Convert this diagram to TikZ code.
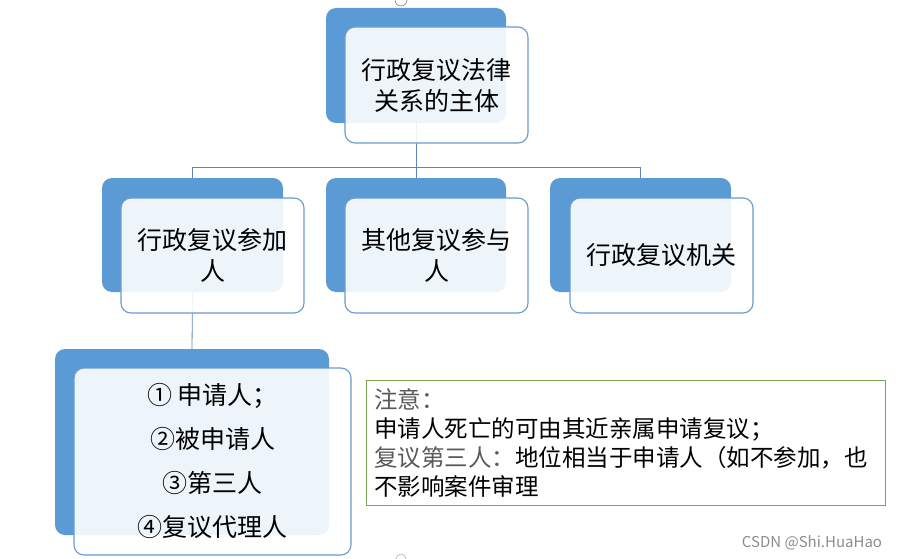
\documentclass[tikz,border=0pt]{standalone}
\usepackage{fontspec}
\setmainfont{Noto Sans CJK SC}
\usepackage{xcolor}
\usetikzlibrary{positioning,calc}

\definecolor{backblue}{HTML}{5B9BD5}
\definecolor{frontline}{HTML}{6A9AD2}
\definecolor{linkblue}{HTML}{5A87BD}
\definecolor{notegreen}{HTML}{7AA653}

\begin{document}
\begin{tikzpicture}[x=1pt,y=-1pt,
  backbox/.style={fill=backblue,rounded corners=10pt,inner sep=0pt},
  frontbox/.style={draw=frontline,line width=1.1pt,fill=white,fill opacity=0.9,draw opacity=1,text opacity=1,rounded corners=10pt,inner sep=0pt,align=center,font=\fontsize{25}{31}\selectfont},
  link/.style={draw=linkblue,line width=0.8pt},
  notebox/.style={draw=notegreen,line width=0.8pt,inner sep=8pt,align=left,font=\fontsize{23.5}{29}\selectfont}]
 \useasboundingbox (0,0) rectangle (899,559);
 % back boxes
 \node[backbox,minimum width=180pt,minimum height=115pt] (topb) at (416,65.5) {};
 \node[backbox,minimum width=181pt,minimum height=114pt] (leftb) at (192.5,235) {};
 \node[backbox,minimum width=180pt,minimum height=114pt] (midb) at (416,235) {};
 \node[backbox,minimum width=181pt,minimum height=114pt] (rightb) at (640.5,235) {};
 \node[backbox,minimum width=274pt,minimum height=186pt] (listb) at (192,442) {};
 % connectors
 \coordinate (split) at (416,167);
 \draw[link] (topb.south) -- (split);
 \draw[link] (split) -| (leftb.north);
 \draw[link] (split) -- (midb.north);
 \draw[link] (split) -| (rightb.north);
 \draw[link] (leftb.south) -- (listb.north);
 % front boxes
 \node[frontbox,minimum width=183pt,minimum height=116pt] (topf) at (436.5,85) {行政复议法律\\关系的主体};
 \node[frontbox,minimum width=183pt,minimum height=115pt] (leftf) at (212.5,255.5) {行政复议参加\\人};
 \node[frontbox,minimum width=183pt,minimum height=115pt] (midf) at (436.5,255.5) {其他复议参与\\人};
 \node[frontbox,minimum width=183pt,minimum height=115pt] (rightf) at (661.5,255.5) {行政复议机关};
 \node[frontbox,minimum width=277pt,minimum height=187pt,font=\fontsize{25}{44}\selectfont] (listf) at (212.5,461.5)
   {① 申请人；\\②被申请人\\③第三人\\④复议代理人};
 % note
 \node[notebox,text width=503pt,minimum height=123pt,anchor=north west] (note) at (366,380)
   {\textcolor{black!65}{注意：}\\申请人死亡的可由其近亲属申请复议；\\\textcolor{black!65}{复议第三人：}地位相当于申请人（如不参加，也\\不影响案件审理};
 % handles and mark
 \draw[gray,line width=0.6pt] (395,0) arc[start angle=180,end angle=360,radius=6pt];
 \draw[gray!60,line width=0.6pt] (396,559) arc[start angle=180,end angle=0,radius=5pt];
 \node[text=black!45,font=\fontsize{15}{17}\selectfont] (mark) at (812,543) {CSDN @Shi.HuaHao};
\end{tikzpicture}
\end{document}
